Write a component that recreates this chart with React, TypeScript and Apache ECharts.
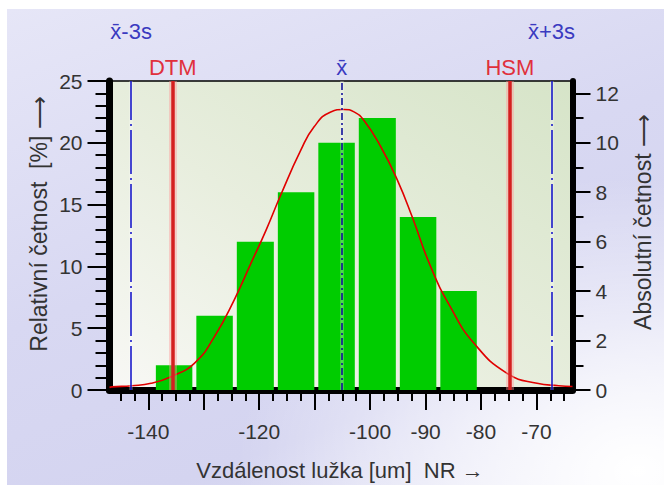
import { useEffect, useRef } from "react";
import * as echarts from "echarts";

// Histogram bins (edges in um) and relative frequency [%]
const binEdges = [-139.0, -131.7, -124.4, -117.0, -109.7, -102.4, -95.0, -87.7, -80.4];
const relFreq = [2, 6, 12, 16, 20, 22, 14, 8];

// Fitted normal curve
const curveX = [-147.0, -146.6, -143.0, -139.5, -135.9, -131.7, -128.1, -124.5, -121.5, -118.8, -116.1, -112.5, -110.1, -107.1, -104.7, -102.9, -101.1, -98.1, -95.1, -92.4, -89.1, -85.5, -81.3, -75.3, -69.9, -66.0, -63.5];
const curveY = [0.2, 0.25, 0.35, 0.54, 1.08, 2.16, 4.3, 7.3, 10.25, 12.9, 15.8, 19.4, 21.3, 22.5, 22.7, 22.5, 21.8, 19.7, 17.0, 14.0, 10.0, 6.7, 3.8, 1.35, 0.54, 0.35, 0.28];

// Reference lines
const refNames = ["x\u0304-3s", "DTM", "x\u0304", "HSM", "x\u0304+3s"];
const refValues = [-143.1, -135.6, -105.1, -74.8, -67.3];

// Axis ticks
const xMajorTicks = [-140, -130, -120, -110, -100, -90, -80, -70];
const xLabelTicks = [-140, -120, -100, -90, -80, -70];
const xMinorTicks = [-145, -142.5, -137.5, -135, -132.5, -127.5, -125, -122.5, -117.5, -115, -112.5, -107.5, -105, -102.5, -97.5, -95, -92.5, -87.5, -85, -82.5, -77.5, -75, -72.5, -67.5, -65];
const leftMajorTicks = [0, 5, 10, 15, 20, 25];
const leftMinorTicks = [1, 2, 3, 4, 6, 7, 8, 9, 11, 12, 13, 14, 16, 17, 18, 19, 21, 22, 23, 24];
const rightMajorTicks = [0, 2, 4, 6, 8, 10, 12];
const rightMinorTicks = [1, 3, 5, 7, 9, 11];

const FONT = '"Liberation Sans", Arial, sans-serif';
const TXT = "#333333";

export default function App() {
  const ref = useRef<HTMLDivElement>(null);
  useEffect(() => {
    if (!ref.current) return;
    const chart = echarts.init(ref.current, null, { renderer: "svg" });

    const bins = relFreq.map((v, i) => [binEdges[i], binEdges[i + 1], v]);
    const curve = curveX.map((x, i) => [x, curveY[i]]);

    const refStyles = [
      { color: "#0c0cc8", type: [44, 4, 2, 4], width: 1.5, labelColor: "#3a3ac0", dist: 39 },
      { color: "#d42020", type: "solid", width: 3.5, labelColor: "#e0303c", dist: 3 },
      { color: "#12129a", type: [7, 3, 2, 3], width: 1.6, labelColor: "#3a3ac0", dist: 3 },
      { color: "#d42020", type: "solid", width: 3.5, labelColor: "#e0303c", dist: 3 },
      { color: "#0c0cc8", type: [44, 4, 2, 4], width: 1.5, labelColor: "#3a3ac0", dist: 39 },
    ];

    // halo lines behind the reference lines
    const haloData = refValues.map((v, i) => ({
      xAxis: v,
      lineStyle: {
        color: refStyles[i].width > 2 ? "rgba(255,150,150,0.4)" : "rgba(255,255,255,0.3)",
        type: "solid",
        width: refStyles[i].width > 2 ? 8 : 3.5,
      },
      label: { show: false },
    }));

    const markData = refValues.map((v, i) => ({
      xAxis: v,
      lineStyle: {
        color: refStyles[i].color,
        type: refStyles[i].type as any,
        width: refStyles[i].width,
      },
      label: {
        show: true,
        position: "end",
        formatter: refNames[i],
        color: refStyles[i].labelColor,
        fontSize: 22,
        fontFamily: FONT,
        distance: refStyles[i].dist,
      },
    }));

    const xCommon = {
      type: "value",
      min: -147,
      max: -63.5,
      position: "bottom",
      splitLine: { show: false },
    };
    const tickLine = { color: "#000", width: 2 };

    chart.setOption({
      animation: false,
      backgroundColor: "transparent",
      grid: {
        left: 102.5,
        right: 91.5,
        top: 72,
        bottom: 95,
        show: true,
        borderColor: "#000",
        borderWidth: 1.5,
        backgroundColor: {
          type: "linear",
          x: 0,
          y: 1,
          x2: 1,
          y2: 0,
          colorStops: [
            { offset: 0, color: "#f8f8f5" },
            { offset: 0.45, color: "#e8eede" },
            { offset: 1, color: "#d6e4c8" },
          ],
        },
      },
      xAxis: [
        {
          ...xCommon,
          axisLine: { show: true, lineStyle: { color: "#000", width: 7 } },
          axisTick: { show: true, length: 20, customValues: xMajorTicks, lineStyle: tickLine },
          axisLabel: {
            show: true,
            customValues: xLabelTicks,
            margin: 31,
            fontSize: 21,
            fontFamily: FONT,
            color: TXT,
          },
        },
        {
          ...xCommon,
          axisLine: { show: false },
          axisTick: { show: true, length: 11, customValues: xMinorTicks, lineStyle: tickLine },
          axisLabel: { show: false },
        },
      ],
      yAxis: [
        {
          type: "value",
          position: "left",
          min: 0,
          max: 25,
          splitLine: { show: false },
          axisLine: { show: true, lineStyle: { color: "#000", width: 7 } },
          axisTick: { show: true, length: 22, customValues: leftMajorTicks, lineStyle: tickLine },
          axisLabel: {
            customValues: leftMajorTicks,
            margin: 27,
            fontSize: 21,
            fontFamily: FONT,
            color: TXT,
          },
        },
        {
          type: "value",
          position: "left",
          min: 0,
          max: 25,
          splitLine: { show: false },
          axisLine: { show: false },
          axisTick: { show: true, length: 14, customValues: leftMinorTicks, lineStyle: tickLine },
          axisLabel: { show: false },
        },
        {
          type: "value",
          position: "right",
          min: 0,
          max: 12.5,
          splitLine: { show: false },
          axisLine: { show: true, lineStyle: { color: "#000", width: 6 } },
          axisTick: { show: true, length: 18, customValues: rightMajorTicks, lineStyle: tickLine },
          axisLabel: {
            customValues: rightMajorTicks,
            margin: 23,
            fontSize: 21,
            fontFamily: FONT,
            color: TXT,
          },
        },
        {
          type: "value",
          position: "right",
          min: 0,
          max: 12.5,
          splitLine: { show: false },
          axisLine: { show: false },
          axisTick: { show: true, length: 11, customValues: rightMinorTicks, lineStyle: tickLine },
          axisLabel: { show: false },
        },
      ],
      graphic: [
        {
          type: "text",
          x: 32,
          y: 215,
          rotation: Math.PI / 2,
          style: {
            text: "Relativní četnost  [%] \u27F6",
            fontSize: 23,
            fontFamily: FONT,
            fill: TXT,
            align: "center",
            verticalAlign: "middle",
          },
        },
        {
          type: "text",
          x: 636,
          y: 213,
          rotation: Math.PI / 2,
          style: {
            text: "Absolutní četnost \u27F6",
            fontSize: 23,
            fontFamily: FONT,
            fill: TXT,
            align: "center",
            verticalAlign: "middle",
          },
        },
        {
          type: "text",
          x: 333,
          y: 461,
          style: {
            text: "Vzdálenost lužka [um]  NR \u2192",
            fontSize: 22,
            fontFamily: FONT,
            fill: TXT,
            align: "center",
            verticalAlign: "middle",
          },
        },
      ],
      series: [
        {
          type: "custom",
          xAxisIndex: 0,
          yAxisIndex: 0,
          z: 2,
          data: bins,
          encode: { x: [0, 1], y: 2 },
          renderItem: (params: any, api: any) => {
            const x0 = api.value(0);
            const x1 = api.value(1);
            const v = api.value(2);
            const p0 = api.coord([x0, v]);
            const p1 = api.coord([x1, 0]);
            return {
              type: "rect",
              shape: { x: p0[0] + 2, y: p0[1], width: p1[0] - p0[0] - 4, height: p1[1] - p0[1] },
              style: { fill: "#00cc00" },
            };
          },
        },
        {
          type: "line",
          xAxisIndex: 0,
          yAxisIndex: 0,
          z: 3,
          data: [],
          markLine: { silent: true, symbol: ["none", "none"], data: haloData },
        },
        {
          type: "line",
          xAxisIndex: 0,
          yAxisIndex: 0,
          z: 4,
          data: curve,
          smooth: true,
          showSymbol: false,
          lineStyle: { color: "#e00000", width: 1.6 },
        },
        {
          type: "line",
          xAxisIndex: 0,
          yAxisIndex: 0,
          z: 5,
          data: [],
          markLine: { silent: true, symbol: ["none", "none"], data: markData },
        },
      ],
    });
    return () => chart.dispose();
  }, []);

  return (
    <div
      ref={ref}
      style={{
        position: "absolute",
        left: 7,
        top: 9,
        width: 657,
        height: 476,
        background:
          "radial-gradient(ellipse at 96% 97%, #ffffff 0%, rgba(255,255,255,0.6) 20%, rgba(255,255,255,0) 45%), linear-gradient(160deg, #e6e6f7 0%, #d8d8f2 45%, #d4d4f0 75%, #e6e6f6 100%)",
      }}
    />
  );
}
